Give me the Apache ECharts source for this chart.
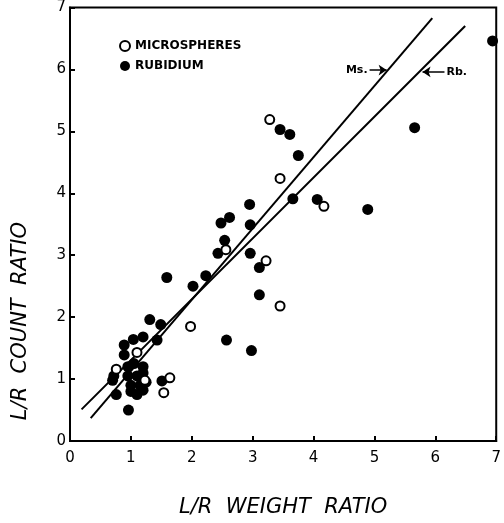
<!DOCTYPE html>
<html>
<head>
<meta charset="utf-8">
<script src="https://cdn.jsdelivr.net/npm/echarts@6/dist/echarts.min.js"></script>
<style>
  html, body { margin: 0; padding: 0; background: #fff; }
  #chart { width: 504px; height: 523px; }
</style>
</head>
<body>
<div id="chart"></div>
<script>
// tick labels
var xTicks = [0, 1, 2, 3, 4, 5, 6, 7];
var yTicks = [0, 1, 2, 3, 4, 5, 6, 7];

// open circles
var microspheres = [
  [3.28, 5.19], [3.45, 4.24], [4.17, 3.79], [2.56, 3.09], [3.22, 2.91],
  [3.45, 2.18], [1.98, 1.85], [1.64, 1.02], [1.54, 0.78], [1.23, 0.98],
  [0.76, 1.16], [1.10, 1.43]
];

// filled circles
var rubidium = [
  [6.94, 6.46], [5.66, 5.06], [4.89, 3.74], [3.45, 5.03], [3.61, 4.95],
  [3.75, 4.61], [2.95, 3.82], [3.66, 3.91], [4.06, 3.90], [2.96, 3.49],
  [2.48, 3.52], [2.62, 3.61], [2.54, 3.24], [2.43, 3.03], [2.96, 3.03],
  [3.11, 2.80], [2.23, 2.67], [1.59, 2.64], [2.02, 2.50], [3.11, 2.36],
  [2.57, 1.63], [2.98, 1.46], [1.31, 1.96], [1.49, 1.88],
  [0.89, 1.55], [1.04, 1.64], [1.20, 1.68], [1.43, 1.63], [0.89, 1.39],
  [0.76, 0.75], [0.96, 0.50], [1.51, 0.97], [0.70, 0.98], [0.72, 1.05],
  [0.95, 1.20], [1.05, 1.25], [1.20, 1.20], [0.95, 1.05], [1.10, 1.05],
  [1.20, 1.10], [1.00, 0.90], [1.15, 0.90], [1.25, 0.95], [1.00, 0.80],
  [1.10, 0.75], [1.20, 0.82]
];

// regression lines (end points)
var msLine = [[0.34, 0.37], [5.95, 6.83]];
var rbLine = [[0.19, 0.51], [6.49, 6.70]];

var chart = echarts.init(document.getElementById('chart'));

var axisCommon = {
  type: 'value',
  min: 0,
  max: 7,
  interval: 1,
  axisLine: { show: true, onZero: false, lineStyle: { color: '#000', width: 2 } },
  axisTick: { show: true, inside: true, length: 5, lineStyle: { color: '#000', width: 2 } },
  splitLine: { show: false },
  axisLabel: {
    color: '#000',
    fontSize: 15,
    fontFamily: 'DejaVu Sans',
    formatter: function (v) { return xTicks.indexOf(v) >= 0 ? String(v) : ''; }
  }
};

chart.setOption({
  animation: false,
  backgroundColor: '#fff',
  grid: {
    left: 70, right: 2, top: 4, bottom: 76,
    show: true, borderColor: '#000', borderWidth: 2
  },
  legend: {
    orient: 'vertical',
    left: 114,
    top: 35,
    itemWidth: 10,
    itemHeight: 10,
    itemGap: 8,
    data: ['MICROSPHERES', 'RUBIDIUM'],
    textStyle: { color: '#000', fontSize: 12, fontWeight: 'bold', fontFamily: 'DejaVu Sans' }
  },
  xAxis: Object.assign({}, axisCommon, {
    axisLabel: Object.assign({}, axisCommon.axisLabel, { margin: 10 }),
    name: 'L/R  WEIGHT  RATIO',
    nameLocation: 'middle',
    nameGap: 56,
    nameTextStyle: { color: '#000', fontSize: 21, fontStyle: 'italic', fontFamily: 'DejaVu Sans' }
  }),
  yAxis: Object.assign({}, axisCommon, {
    axisLabel: Object.assign({}, axisCommon.axisLabel, {
      margin: 4,
      formatter: function (v) { return yTicks.indexOf(v) >= 0 ? String(v) : ''; }
    })
  }),
  graphic: [{
    type: 'text',
    left: 10,
    top: 222,
    rotation: Math.PI / 2,
    originX: 0, originY: 0,
    style: {
      text: 'L/R  COUNT  RATIO',
      fill: '#000',
      font: 'italic 21px "DejaVu Sans"'
    }
  }],
  series: [
    {
      name: 'Ms',
      type: 'line',
      data: msLine,
      symbol: 'none',
      lineStyle: { color: '#000', width: 2 },
      z: 1,
      markLine: {
        silent: true,
        symbol: ['none', 'arrow'],
        symbolSize: 8,
        lineStyle: { color: '#000', width: 1.5, type: 'solid' },
        label: { show: true, position: 'start', formatter: 'Ms.', color: '#000', fontSize: 11, fontWeight: 'bold', fontFamily: 'DejaVu Sans', distance: 2 },
        data: [[{ coord: [4.92, 5.99] }, { coord: [5.2, 5.99] }]]
      }
    },
    {
      name: 'Rb',
      type: 'line',
      data: rbLine,
      symbol: 'none',
      lineStyle: { color: '#000', width: 2 },
      z: 1,
      markLine: {
        silent: true,
        symbol: ['none', 'arrow'],
        symbolSize: 8,
        lineStyle: { color: '#000', width: 1.5, type: 'solid' },
        label: { show: true, position: 'start', formatter: 'Rb.', color: '#000', fontSize: 11, fontWeight: 'bold', fontFamily: 'DejaVu Sans', distance: 2 },
        data: [[{ coord: [6.15, 5.96] }, { coord: [5.79, 5.96] }]]
      }
    },
    {
      name: 'MICROSPHERES',
      type: 'scatter',
      data: microspheres,
      symbol: 'circle',
      symbolSize: 9,
      itemStyle: { color: '#fff', borderColor: '#000', borderWidth: 2, opacity: 1 },
      z: 3
    },
    {
      name: 'RUBIDIUM',
      type: 'scatter',
      data: rubidium,
      symbol: 'circle',
      symbolSize: 11,
      itemStyle: { color: '#000', opacity: 1 },
      z: 2
    }
  ]
});
</script>
</body>
</html>
